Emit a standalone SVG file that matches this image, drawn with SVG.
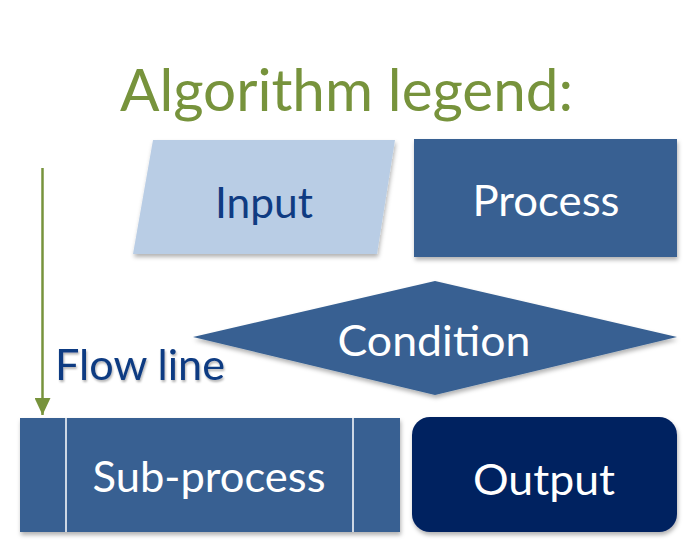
<svg xmlns="http://www.w3.org/2000/svg" width="700" height="543" viewBox="0 0 700 543">
<defs>
<filter id="sh" x="-10%" y="-10%" width="120%" height="130%">
<feDropShadow dx="1" dy="3" stdDeviation="2" flood-color="#000" flood-opacity="0.3"/>
</filter>
<filter id="tsh" x="-10%" y="-20%" width="120%" height="150%">
<feDropShadow dx="1" dy="2" stdDeviation="1.2" flood-color="#000" flood-opacity="0.3"/>
</filter>
<marker id="arr" markerWidth="17" markerHeight="16" refX="17" refY="8" orient="auto" markerUnits="userSpaceOnUse" viewBox="0 0 17 16">
<path d="M0,0 L17,8 L0,16 Z" fill="#77933c"/>
</marker>
</defs>
<style>
text{font-family:Lato,"Open Sans","Liberation Sans",sans-serif;}
.lbl{font-size:42px;fill:#fff;text-anchor:middle;}
.dk{fill:#0f3b82;}
.mid{fill:#376092;}
</style>
<rect width="700" height="543" fill="#fff"/>
<text x="120" y="111" font-size="58" fill="#77933c" textLength="453" lengthAdjust="spacingAndGlyphs">Algorithm legend:</text>
<g id="input">
<polygon points="153,140 395,140 377,254 133,254" fill="#b9cde5" filter="url(#sh)"/>
<text class="lbl dk" x="264" y="218" textLength="98" lengthAdjust="spacingAndGlyphs">Input</text>
</g>
<g id="process">
<rect x="414" y="139" width="263" height="118" class="mid" filter="url(#sh)"/>
<text class="lbl" x="546" y="216" textLength="147" lengthAdjust="spacingAndGlyphs">Process</text>
</g>
<g id="condition">
<polygon points="193,337 435,281 677,337 435,395" class="mid" filter="url(#sh)"/>
<text class="lbl" x="434" y="356" textLength="193" lengthAdjust="spacingAndGlyphs">Condition</text>
</g>
<g id="connectors">
<line x1="42.5" y1="168" x2="42.5" y2="415" stroke="#77933c" stroke-width="2.5" marker-end="url(#arr)"/>
<text class="dk" x="55" y="380" font-size="42" filter="url(#tsh)" textLength="170" lengthAdjust="spacingAndGlyphs">Flow line</text>
</g>
<g id="subprocess">
<rect x="20" y="418" width="380" height="114" class="mid" filter="url(#sh)"/>
<line x1="66" y1="418" x2="66" y2="532" stroke="#fff" stroke-width="1.5"/>
<line x1="353" y1="418" x2="353" y2="532" stroke="#fff" stroke-width="1.5"/>
<text class="lbl" x="209" y="492" textLength="233" lengthAdjust="spacingAndGlyphs">Sub-process</text>
</g>
<g id="output">
<rect x="412" y="417" width="265" height="115" rx="18" fill="#002060" filter="url(#sh)"/>
<text class="lbl" x="544" y="495" textLength="142" lengthAdjust="spacingAndGlyphs">Output</text>
</g>
</svg>
